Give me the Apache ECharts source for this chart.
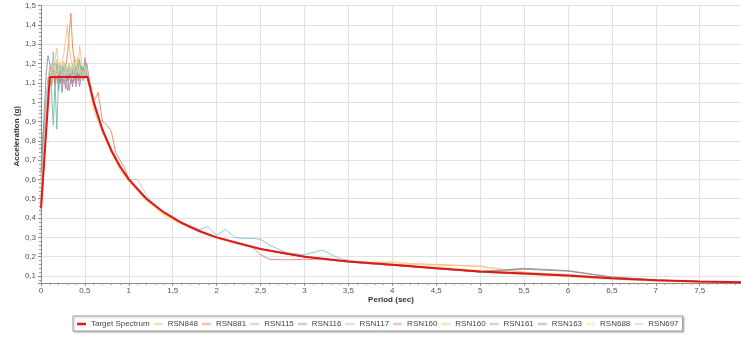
<!DOCTYPE html>
<html>
<head>
<meta charset="utf-8">
<script src="https://cdn.jsdelivr.net/npm/echarts@6/dist/echarts.min.js"></script>
<style>
  html, body { margin: 0; padding: 0; background: #fff; }
  #chart { width: 741px; height: 338px; }
</style>
</head>
<body>
<div id="chart"></div>
<script>
// Design response spectrum (target)
const targetPeriods = [0, 0.1, 0.53, 0.6, 0.7, 0.8, 0.9, 1.0, 1.2, 1.4, 1.6, 1.8, 2.0, 2.5, 3.0, 3.5, 4.0, 4.5, 5.0, 5.5, 6.0, 6.5, 7.0, 7.5, 8.0];
const targetValues  = [0.45, 1.13, 1.13, 1.0, 0.857, 0.75, 0.667, 0.6, 0.5, 0.429, 0.375, 0.333, 0.3, 0.24, 0.2, 0.175, 0.158, 0.14, 0.123, 0.113, 0.102, 0.089, 0.078, 0.071, 0.067];

// Periods (sec) shared by the scaled record spectra
const periods = [0, 0.02, 0.04, 0.06, 0.08, 0.1, 0.12, 0.14, 0.16, 0.18, 0.2, 0.22, 0.24, 0.26, 0.28, 0.3, 0.32, 0.34, 0.36, 0.38, 0.4, 0.42, 0.44, 0.46, 0.48, 0.5, 0.52, 0.55,
  0.6, 0.65, 0.7, 0.75, 0.8, 0.85, 0.9, 0.95, 1.0, 1.1, 1.2, 1.3, 1.4, 1.5, 1.6, 1.7, 1.8, 1.9, 2.0, 2.1, 2.2, 2.3, 2.4, 2.5, 2.6, 2.8, 3.0, 3.2, 3.4, 3.6, 3.8, 4.0, 4.5, 5.0, 5.5, 6.0, 6.5, 7.0, 7.5, 8.0];

const rsn848 = [0.52,0.66,0.82,0.98,1.10,1.16,1.14,1.20,1.17,1.22,1.15,1.19,1.13,1.21,1.16,1.12,1.18,1.14,1.20,1.16,1.10,1.17,1.13,1.19,1.15,1.12,1.17,1.10,
  0.98,0.93,0.86,0.79,0.76,0.70,0.67,0.62,0.61,0.55,0.49,0.46,0.43,0.41,0.37,0.35,0.34,0.31,0.30,0.29,0.27,0.26,0.25,0.24,0.23,0.215,0.205,0.19,0.18,0.172,0.17,0.168,0.16,0.15,0.12,0.098,0.085,0.075,0.07,0.066];
const rsn881 = [0.42,0.55,0.72,0.90,1.05,1.12,1.08,1.15,1.10,1.18,1.12,1.20,1.16,1.14,1.18,1.24,1.35,1.46,1.28,1.22,1.16,1.20,1.12,1.18,1.14,1.20,1.16,1.08,
  1.00,1.05,0.90,0.88,0.85,0.74,0.70,0.66,0.60,0.545,0.50,0.46,0.43,0.40,0.375,0.35,0.335,0.315,0.30,0.285,0.27,0.26,0.25,0.24,0.23,0.215,0.2,0.19,0.18,0.17,0.162,0.158,0.14,0.122,0.113,0.10,0.088,0.078,0.071,0.067];
const rsn115 = [0.78,0.82,0.90,1.00,1.10,1.18,1.15,1.26,1.12,1.20,1.16,1.10,1.19,1.14,1.17,1.11,1.20,1.15,1.13,1.18,1.12,1.16,1.14,1.19,1.13,1.21,1.18,1.12,
  1.01,0.93,0.85,0.81,0.75,0.71,0.66,0.63,0.60,0.55,0.50,0.46,0.43,0.40,0.38,0.36,0.34,0.355,0.31,0.342,0.30,0.295,0.295,0.29,0.26,0.22,0.21,0.234,0.19,0.175,0.168,0.16,0.142,0.125,0.115,0.103,0.09,0.079,0.072,0.072];
const rsn116 = [0.60,0.70,0.85,0.98,1.10,1.14,1.12,1.16,1.10,1.15,1.06,1.14,1.05,1.13,1.07,1.15,1.06,1.12,1.08,1.16,1.10,1.14,1.08,1.15,1.12,1.17,1.14,1.10,
  0.99,0.92,0.86,0.80,0.75,0.70,0.665,0.63,0.60,0.545,0.50,0.462,0.43,0.40,0.375,0.353,0.333,0.316,0.30,0.286,0.273,0.261,0.25,0.24,0.231,0.214,0.2,0.19,0.18,0.17,0.165,0.158,0.138,0.122,0.14,0.128,0.095,0.08,0.071,0.066];
const rsn117 = [0.70,0.76,0.88,1.00,1.10,1.15,1.18,1.13,1.20,1.15,1.19,1.12,1.17,1.14,1.20,1.16,1.12,1.18,1.14,1.20,1.15,1.23,1.16,1.12,1.18,1.15,1.20,1.12,
  1.0,0.92,0.86,0.80,0.75,0.71,0.67,0.635,0.60,0.55,0.505,0.465,0.43,0.40,0.378,0.355,0.335,0.318,0.30,0.288,0.275,0.262,0.25,0.24,0.232,0.215,0.2,0.19,0.18,0.171,0.164,0.157,0.14,0.122,0.112,0.1,0.087,0.077,0.07,0.068];
const rsn160a = [0.48,0.62,0.78,0.95,1.08,1.12,1.10,1.16,1.08,1.14,1.10,1.17,1.09,1.15,1.11,1.06,1.14,1.10,1.16,1.12,1.08,1.15,1.11,1.18,1.14,1.23,1.18,1.10,
  0.99,0.92,0.86,0.80,0.75,0.70,0.67,0.63,0.60,0.545,0.50,0.46,0.43,0.40,0.375,0.353,0.333,0.316,0.30,0.285,0.272,0.26,0.25,0.21,0.186,0.184,0.186,0.186,0.178,0.17,0.162,0.155,0.138,0.12,0.11,0.1,0.087,0.077,0.07,0.066];
const rsn160b = [0.55,0.68,0.82,0.97,1.10,1.16,1.20,1.15,1.22,1.28,1.18,1.14,1.20,1.25,1.32,1.40,1.30,1.22,1.18,1.24,1.20,1.16,1.29,1.22,1.15,1.19,1.13,1.08,
  0.96,0.90,0.84,0.80,0.76,0.72,0.65,0.62,0.59,0.54,0.49,0.455,0.42,0.395,0.37,0.35,0.33,0.31,0.295,0.283,0.27,0.258,0.247,0.238,0.228,0.212,0.198,0.186,0.176,0.168,0.16,0.16,0.157,0.15,0.118,0.098,0.085,0.075,0.069,0.066];
const rsn161 = [0.62,0.75,0.90,1.02,1.12,1.15,1.05,0.88,1.10,0.86,1.12,1.20,1.14,1.18,1.12,1.16,1.20,1.13,1.17,1.14,1.19,1.12,1.22,1.15,1.18,1.14,1.20,1.10,
  1.0,0.925,0.86,0.80,0.75,0.705,0.665,0.63,0.60,0.548,0.503,0.463,0.43,0.40,0.376,0.354,0.334,0.317,0.30,0.286,0.273,0.262,0.25,0.241,0.232,0.215,0.2,0.19,0.179,0.17,0.163,0.156,0.14,0.12,0.11,0.1,0.088,0.078,0.072,0.07];
const rsn163 = [0.64,0.80,0.98,1.15,1.24,1.20,1.14,1.17,1.12,1.16,1.13,1.18,1.11,1.15,1.13,1.17,1.12,1.16,1.10,1.14,1.12,1.17,1.13,1.15,1.11,1.16,1.13,1.09,
  0.995,0.92,0.855,0.80,0.75,0.705,0.665,0.63,0.60,0.545,0.50,0.462,0.43,0.40,0.375,0.353,0.333,0.316,0.30,0.286,0.273,0.261,0.25,0.24,0.231,0.214,0.2,0.188,0.178,0.17,0.163,0.157,0.141,0.124,0.135,0.125,0.094,0.079,0.071,0.066];
const rsn688 = [0.50,0.64,0.80,0.96,1.08,1.14,1.17,1.12,1.19,1.13,1.16,1.21,1.15,1.12,1.18,1.14,1.20,1.16,1.12,1.17,1.21,1.15,1.18,1.12,1.16,1.14,1.18,1.08,
  0.97,0.90,0.84,0.79,0.74,0.69,0.65,0.62,0.59,0.54,0.49,0.455,0.41,0.39,0.37,0.35,0.33,0.313,0.298,0.284,0.272,0.26,0.25,0.24,0.232,0.216,0.202,0.19,0.18,0.172,0.172,0.174,0.15,0.128,0.108,0.095,0.082,0.074,0.068,0.066];
const rsn697 = [0.58,0.70,0.86,1.00,1.12,1.18,1.15,1.19,1.13,1.17,1.14,1.18,1.12,1.16,1.19,1.13,1.17,1.15,1.19,1.13,1.16,1.18,1.14,1.17,1.13,1.19,1.16,1.11,
  1.0,0.93,0.86,0.81,0.76,0.71,0.67,0.63,0.60,0.60,0.52,0.465,0.43,0.40,0.377,0.355,0.334,0.317,0.30,0.287,0.274,0.262,0.251,0.241,0.232,0.215,0.2,0.189,0.178,0.169,0.162,0.156,0.14,0.123,0.118,0.108,0.09,0.078,0.071,0.067];

// Two records share the label RSN160; the trailing space keeps their legend entries apart
const records = [
  { name: 'RSN848',  values: rsn848,  color: '#f4b577' },
  { name: 'RSN881',  values: rsn881,  color: '#ee7a4c' },
  { name: 'RSN115',  values: rsn115,  color: '#7dbbd6' },
  { name: 'RSN116',  values: rsn116,  color: '#7d8cb8' },
  { name: 'RSN117',  values: rsn117,  color: '#8dcfae' },
  { name: 'RSN160',  values: rsn160a, color: '#e27e7e' },
  { name: 'RSN160 ', values: rsn160b, color: '#f5bd7c' },
  { name: 'RSN161',  values: rsn161,  color: '#66bca0' },
  { name: 'RSN163',  values: rsn163,  color: '#8c8c8c' },
  { name: 'RSN688',  values: rsn688,  color: '#eedd86' },
  { name: 'RSN697',  values: rsn697,  color: '#c4c4c4' }
];

const FONT = '"Liberation Sans", Arial, sans-serif';
const comma = v => String(+v.toFixed(2)).replace('.', ',');
const TARGET_RED = '#e3171b';

const series = [{
  name: 'Target Spectrum',
  type: 'line',
  data: targetPeriods.map((p, i) => [p, targetValues[i]]),
  symbol: 'none',
  z: 5,
  lineStyle: { color: TARGET_RED, width: 2 },
  itemStyle: { color: TARGET_RED }
}];
records.forEach((r, k) => {
  series.push({
    id: 'rec' + k,
    name: r.name,
    type: 'line',
    data: periods.map((p, i) => [p, r.values[i]]),
    symbol: 'none',
    z: 2,
    lineStyle: { color: r.color, width: 1, opacity: 0.85 },
    itemStyle: { color: r.color }
  });
});

const legendData = [{ name: 'Target Spectrum', itemStyle: { color: TARGET_RED, opacity: 1 } }]
  .concat(records.map(r => ({ name: r.name, itemStyle: { color: r.color, opacity: 0.45 } })));

const chart = echarts.init(document.getElementById('chart'), null, { renderer: 'canvas' });
chart.setOption({
  animation: false,
  backgroundColor: '#ffffff',
  grid: { left: 41, right: 0, top: 5.5, bottom: 55, outerBoundsMode: 'none', containLabel: false },
  legend: {
    data: legendData,
    icon: 'rect',
    left: 73,
    top: 316,
    padding: [4, 4, 3, 4],
    itemWidth: 9,
    itemHeight: 2.5,
    itemGap: 4,
    borderColor: '#a0a0a0',
    borderWidth: 1,
    shadowColor: 'rgba(0,0,0,0.25)',
    shadowBlur: 2,
    shadowOffsetX: 1,
    shadowOffsetY: 1,
    backgroundColor: '#fff',
    formatter: n => n.trim(),
    textStyle: { fontFamily: FONT, fontSize: 8, color: '#444' }
  },
  xAxis: {
    type: 'value',
    min: 0,
    max: 7.97,
    interval: 0.5,
    name: 'Period (sec)',
    nameLocation: 'middle',
    nameGap: 13,
    nameMoveOverlap: false,
    nameTextStyle: { fontFamily: FONT, fontSize: 8, fontWeight: 'bold', color: '#333' },
    axisLine: { show: true, lineStyle: { color: '#8a8a8a', width: 1 } },
    axisTick: { show: true, length: 3, lineStyle: { color: '#8a8a8a' } },
    minorTick: { show: true, splitNumber: 5, length: 2, lineStyle: { color: '#9a9a9a' } },
    axisLabel: { fontFamily: FONT, fontSize: 8, color: '#555', margin: 4, showMaxLabel: false, formatter: comma },
    splitLine: { show: true, lineStyle: { color: '#e2e2e2', width: 1 } }
  },
  yAxis: {
    type: 'value',
    min: 0.0638,
    max: 1.5,
    splitNumber: 14,
    name: 'Acceleration (g)',
    nameLocation: 'middle',
    nameGap: 20,
    nameMoveOverlap: false,
    nameRotate: 90,
    nameTextStyle: { fontFamily: FONT, fontSize: 8, fontWeight: 'bold', color: '#333', padding: [0, 0, 0, 16] },
    axisLine: { show: true, lineStyle: { color: '#8a8a8a', width: 1 } },
    axisTick: { show: true, length: 3, lineStyle: { color: '#8a8a8a' } },
    minorTick: { show: true, splitNumber: 5, length: 2, lineStyle: { color: '#9a9a9a' } },
    axisLabel: {
      fontFamily: FONT, fontSize: 8, color: '#555', margin: 5, showMinLabel: false,
      formatter: v => (Math.abs(v * 10 - Math.round(v * 10)) < 1e-6 ? comma(v) : '')
    },
    splitLine: { show: true, lineStyle: { color: '#e2e2e2', width: 1 } }
  },
  series: series
});
</script>
</body>
</html>
